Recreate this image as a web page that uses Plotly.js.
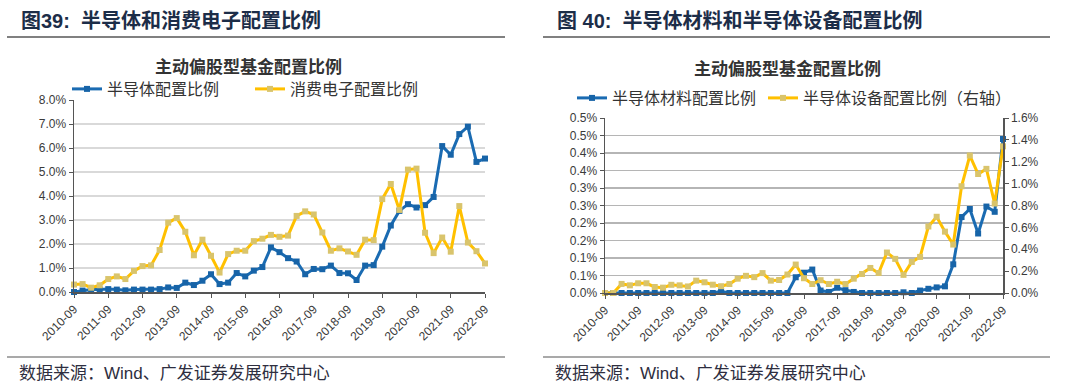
<!DOCTYPE html>
<html>
<head>
<meta charset="utf-8">
<script src="https://cdn.plot.ly/plotly-3.0.1.min.js"></script>
<style>
html,body{margin:0;padding:0;background:#fff;}
#chart{width:1080px;height:389px;}
</style>
</head>
<body>
<div id="chart"></div>
<script>
// ---------- data ----------
const quarters = ['2010-09','2010-12','2011-03','2011-06','2011-09','2011-12','2012-03','2012-06','2012-09','2012-12',
'2013-03','2013-06','2013-09','2013-12','2014-03','2014-06','2014-09','2014-12','2015-03','2015-06',
'2015-09','2015-12','2016-03','2016-06','2016-09','2016-12','2017-03','2017-06','2017-09','2017-12',
'2018-03','2018-06','2018-09','2018-12','2019-03','2019-06','2019-09','2019-12','2020-03','2020-06',
'2020-09','2020-12','2021-03','2021-06','2021-09','2021-12','2022-03','2022-06','2022-09'];
const yearTicks = ['2010-09','2011-09','2012-09','2013-09','2014-09','2015-09','2016-09','2017-09','2018-09','2019-09','2020-09','2021-09','2022-09'];

// 图39 (%)
const semiconductor = [0.00,0.06,0.10,0.10,0.12,0.10,0.07,0.10,0.10,0.10,0.12,0.19,0.17,0.39,0.29,0.47,0.74,0.33,0.39,0.79,
0.65,0.89,1.04,1.86,1.66,1.41,1.27,0.74,0.96,0.95,1.10,0.79,0.78,0.50,1.10,1.12,1.89,2.77,3.38,3.66,
3.52,3.62,3.96,6.08,5.72,6.58,6.89,5.42,5.56];
const consumerElec = [0.31,0.33,0.18,0.28,0.54,0.65,0.54,0.88,1.08,1.11,1.75,2.89,3.08,2.51,1.53,2.18,1.51,0.81,1.58,1.72,
1.72,2.12,2.22,2.38,2.30,2.35,3.17,3.36,3.23,2.48,1.72,1.82,1.69,1.55,2.18,2.16,3.87,4.50,3.42,5.10,
5.14,2.47,1.62,2.27,1.68,3.58,2.06,1.70,1.19];

// 图40 (%)
const semiMaterial = [0,0,0,0,0,0,0,0,0,0,0,0,0,0,0.005,0,0,0,0,0,
0,0,0,0.045,0.058,0.067,0.007,0.003,0.015,0.008,0.003,0,0,0,0,0,0.002,0,0.007,0.012,
0.016,0.019,0.082,0.217,0.240,0.170,0.247,0.232,0.440];
const semiEquipment = [0,0,0.083,0.070,0.089,0.089,0.055,0.049,0.075,0.070,0.060,0.113,0.098,0.076,0.062,0.082,0.131,0.157,0.145,0.182,
0.113,0.119,0.169,0.260,0.135,0.082,0.117,0.082,0.103,0.082,0.131,0.174,0.229,0.183,0.370,0.312,0.166,0.284,0.330,0.608,
0.697,0.561,0.443,0.976,1.257,1.088,1.135,0.818,1.341];

const leftTickVals = [0,0.05,0.10,0.15,0.20,0.25,0.30,0.35,0.40,0.45,0.50];
const leftTickText = ['0.0%','0.1%','0.1%','0.2%','0.2%','0.3%','0.3%','0.4%','0.4%','0.5%','0.5%'];

// ---------- style ----------
const W = 1080, H = 389;
const px = v => v / W;
const py = v => (H - v) / H;
const BLUE = '#1a6bb2', BLUE_M = '#1764a8';
const GOLD = '#FFC000', GOLD_M = '#d9c46c';
const CJK = 'Noto Sans CJK SC';
const LAT = 'Liberation Sans, Arial, Noto Sans CJK SC';
const tickFont = {family: LAT, size: 12, color: '#3a3a3a'};
const legFont = {family: CJK, size: 16, color: '#333'};

function line(name, y, color, mcolor, xa, ya, leg) {
  return {
    type: 'scatter', mode: 'lines+markers', name: name,
    x: quarters, y: y, xaxis: xa, yaxis: ya, legend: leg,
    line: {color: color, width: 3},
    marker: {symbol: 'square', size: 6, color: mcolor},
    cliponaxis: false, hoverinfo: 'skip'
  };
}

const traces = [
  line('半导体配置比例', semiconductor, BLUE, BLUE_M, 'x', 'y', 'legend'),
  line('消费电子配置比例', consumerElec, GOLD, GOLD_M, 'x', 'y', 'legend2'),
  line('半导体材料配置比例', semiMaterial, BLUE, BLUE_M, 'x2', 'y2', 'legend3'),
  line('半导体设备配置比例（右轴）', semiEquipment, GOLD, GOLD_M, 'x2', 'y3', 'legend4')
];

function xAxis(domain, anchor) {
  return {
    type: 'category', categoryorder: 'array', categoryarray: quarters,
    domain: domain, anchor: anchor, range: [0, 48],
    tickmode: 'array', tickvals: yearTicks, ticktext: yearTicks, tickangle: -45,
    ticks: 'outside', ticklen: 4, tickcolor: '#555', tickwidth: 1,
    showline: true, linecolor: '#555', linewidth: 1.5,
    showgrid: false, zeroline: false, tickfont: tickFont, fixedrange: true
  };
}
function legendAt(x, y) {
  return {x: px(x), y: py(y), xanchor: 'left', yanchor: 'middle', orientation: 'h',
    font: legFont, bgcolor: 'rgba(0,0,0,0)', borderwidth: 0, itemclick: false, itemdoubleclick: false};
}

const layout = {
  width: W, height: H,
  margin: {l: 0, r: 0, t: 0, b: 0},
  paper_bgcolor: '#fff', plot_bgcolor: '#fff',
  showlegend: true,
  xaxis: xAxis([px(74), px(485)], 'y'),
  yaxis: {
    domain: [py(292), py(100)], anchor: 'x', range: [0, 8], dtick: 1,
    tickformat: '.1f', ticksuffix: '%',
    ticks: 'outside', ticklen: 4, tickcolor: '#555',
    showline: true, linecolor: '#555', linewidth: 1.5,
    showgrid: true, gridcolor: '#d9d9d9', gridwidth: 1.5, zeroline: false,
    tickfont: tickFont, fixedrange: true
  },
  xaxis2: xAxis([px(605), px(1003)], 'y2'),
  yaxis2: {
    domain: [py(293), py(118)], anchor: 'x2', range: [0, 0.5],
    tickmode: 'array', tickvals: leftTickVals, ticktext: leftTickText,
    ticks: 'outside', ticklen: 4, tickcolor: '#555',
    showline: true, linecolor: '#555', linewidth: 1.5,
    showgrid: true, gridcolor: '#b5b5b5', gridwidth: 1.3, zeroline: false,
    tickfont: tickFont, fixedrange: true
  },
  yaxis3: {
    overlaying: 'y2', side: 'right', anchor: 'x2', range: [0, 1.6], dtick: 0.2,
    tickformat: '.1f', ticksuffix: '%',
    ticks: 'outside', ticklen: 4, tickcolor: '#555',
    showline: true, linecolor: '#555', linewidth: 1.5,
    showgrid: false, zeroline: false, tickfont: tickFont, fixedrange: true
  },
  legend: legendAt(67, 89),
  legend2: legendAt(250, 89),
  legend3: legendAt(572, 98),
  legend4: legendAt(763, 98),
  shapes: [
    {type: 'line', xref: 'paper', yref: 'paper', x0: px(7), x1: px(505), y0: py(37), y1: py(37), line: {color: '#808080', width: 2}},
    {type: 'line', xref: 'paper', yref: 'paper', x0: px(543), x1: px(1050), y0: py(37), y1: py(37), line: {color: '#808080', width: 2}},
    {type: 'line', xref: 'paper', yref: 'paper', x0: px(7), x1: px(505), y0: py(357), y1: py(357), line: {color: '#8c8c8c', width: 1.5}},
    {type: 'line', xref: 'paper', yref: 'paper', x0: px(543), x1: px(1050), y0: py(357), y1: py(357), line: {color: '#8c8c8c', width: 1.5}}
  ],
  annotations: [
    {text: '<b>图39:  半导体和消费电子配置比例</b>', x: px(19), y: py(21), xanchor: 'left', yanchor: 'middle',
     xref: 'paper', yref: 'paper', showarrow: false, font: {family: LAT, size: 20, color: '#1c2d48'}},
    {text: '<b>图 40:  半导体材料和半导体设备配置比例</b>', x: px(555), y: py(21), xanchor: 'left', yanchor: 'middle',
     xref: 'paper', yref: 'paper', showarrow: false, font: {family: LAT, size: 20, color: '#1c2d48'}},
    {text: '<b>主动偏股型基金配置比例</b>', x: px(248), y: py(65), xanchor: 'center', yanchor: 'middle',
     xref: 'paper', yref: 'paper', showarrow: false, font: {family: CJK, size: 17, color: '#333'}},
    {text: '<b>主动偏股型基金配置比例</b>', x: px(787), y: py(68), xanchor: 'center', yanchor: 'middle',
     xref: 'paper', yref: 'paper', showarrow: false, font: {family: CJK, size: 17, color: '#333'}},
    {text: '数据来源：Wind、广发证券发展研究中心', x: px(17), y: py(373), xanchor: 'left', yanchor: 'middle',
     xref: 'paper', yref: 'paper', showarrow: false, font: {family: LAT, size: 17, color: '#2e2e40'}},
    {text: '数据来源：Wind、广发证券发展研究中心', x: px(553), y: py(373), xanchor: 'left', yanchor: 'middle',
     xref: 'paper', yref: 'paper', showarrow: false, font: {family: LAT, size: 17, color: '#2e2e40'}}
  ]
};

Plotly.newPlot('chart', traces, layout, {displayModeBar: false, staticPlot: true});
</script>
</body>
</html>
